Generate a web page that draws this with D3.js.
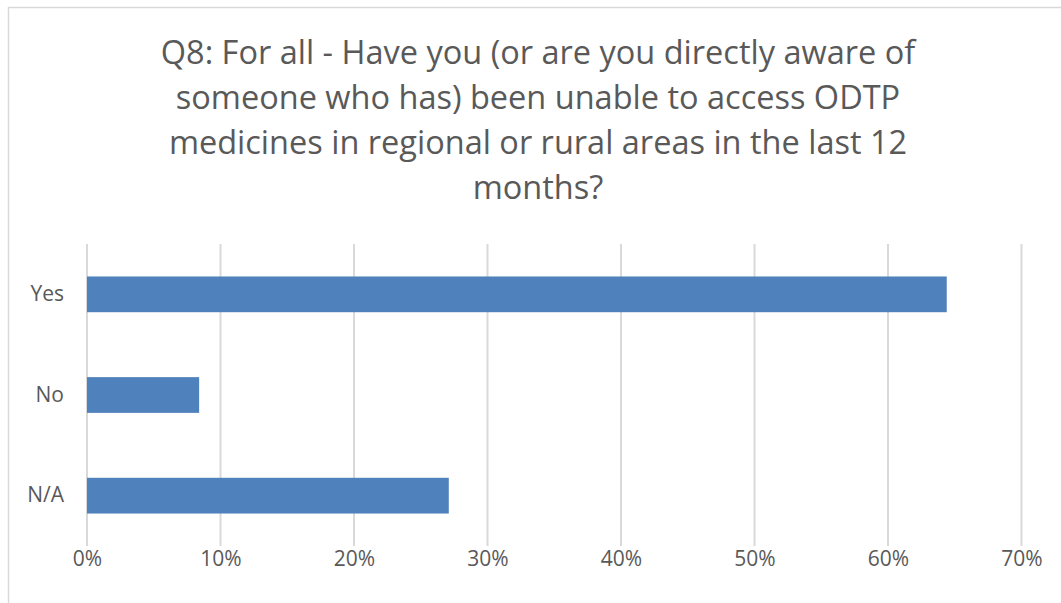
<!DOCTYPE html>
<html lang="en">
<head>
  <meta charset="utf-8" />
  <title>Q8 chart</title>
  <script src="https://d3js.org/d3.v7.min.js"></script>
  <style>
    body {
      margin: 0;
      background: #ffffff;
      font-family: "Open Sans", "Noto Sans", sans-serif;
    }
    .grid line {
      stroke: #d9d9d9;
      stroke-width: 2px;
    }
    .axis text {
      fill: #595959;
      font-size: 21px;
      font-family: "Open Sans", "Noto Sans", sans-serif;
    }
    .title {
      fill: #595959;
      font-size: 32.5px;
    }
  </style>
</head>
<body>
<svg id="chart" width="1061" height="603"></svg>
<script>
var titleLines = [
  "Q8: For all - Have you (or are you directly aware of",
  "someone who has) been unable to access ODTP",
  "medicines in regional or rural areas in the last 12",
  "months?"
];
var categories = ["Yes", "No", "N/A"];
var values = [0.644, 0.084, 0.271];
var ticks = [0, 0.1, 0.2, 0.3, 0.4, 0.5, 0.6, 0.7];

drawChart(1061, 603);

function drawChart(width, height) {
  var svg = d3.select("#chart");

  // chart frame
  svg.append("rect")
    .attr("x", 8.5).attr("y", 7.5)
    .attr("width", width + 10).attr("height", height + 10)
    .attr("fill", "none")
    .attr("stroke", "#d9d9d9")
    .attr("stroke-width", 1.5);

  svg.append("g").attr("class", "title")
    .selectAll("text")
    .data(titleLines)
    .enter().append("text")
    .attr("x", 538)
    .attr("y", function(d, i) { return 64 + i * 45; })
    .attr("text-anchor", "middle")
    .text(function(d) { return d; });

  var x = d3.scaleLinear().domain([0, 0.7]).range([87, 1021.5]);
  var y = d3.scaleBand().domain(categories).range([244, 546]).paddingInner(0.645).paddingOuter(0.3225);

  svg.append("g").attr("class", "grid")
    .selectAll("line")
    .data(ticks)
    .enter().append("line")
    .attr("x1", function(d) { return x(d); })
    .attr("x2", function(d) { return x(d); })
    .attr("y1", 244)
    .attr("y2", 546);

  svg.append("g")
    .selectAll("rect")
    .data(values)
    .enter().append("rect")
    .attr("x", x(0))
    .attr("y", function(d, i) { return y(categories[i]); })
    .attr("width", function(d) { return x(d) - x(0); })
    .attr("height", y.bandwidth())
    .attr("fill", "#4f81bd");

  var xAxis = d3.axisBottom(x).tickValues(ticks).tickFormat(d3.format(".0%")).tickSize(0).tickPadding(0);
  svg.append("g").attr("class", "axis")
    .attr("transform", "translate(0,565.5)")
    .call(xAxis)
    .call(function(g) { g.select(".domain").remove(); })
    .selectAll("text").attr("dy", null);

  var yAxis = d3.axisLeft(y).tickSize(0).tickPadding(0);
  svg.append("g").attr("class", "axis")
    .attr("transform", "translate(64,0)")
    .call(yAxis)
    .call(function(g) { g.select(".domain").remove(); });

  svg.selectAll(".axis").attr("font-family", null).attr("font-size", null);
}
</script>
</body>
</html>
